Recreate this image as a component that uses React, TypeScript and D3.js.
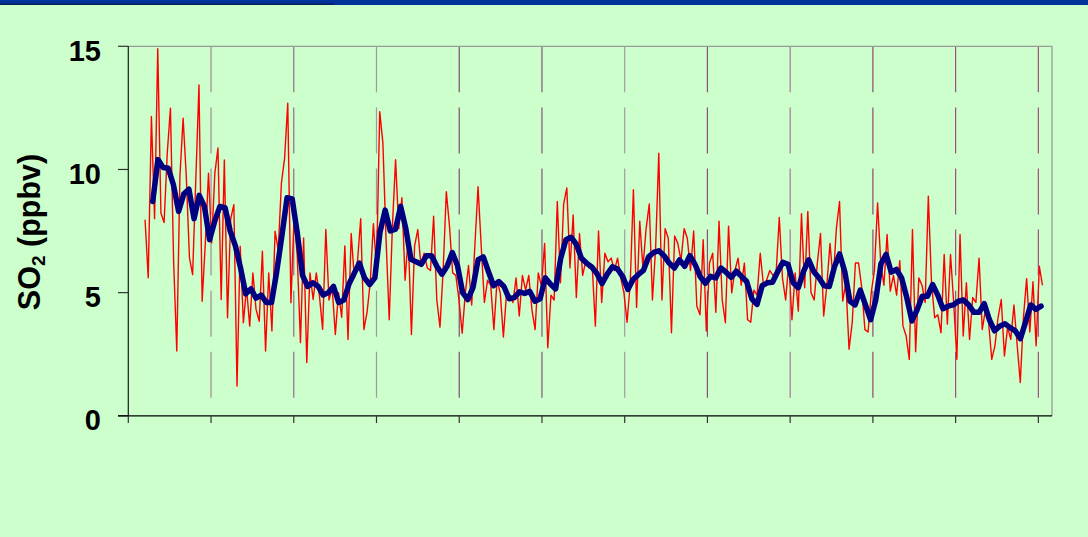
import React from "react";
import * as d3 from "d3";

// ---- data ----
const YEAR_DAYS = 365.25;
const X_END_DAYS = 4078; // axis extent in days
const yTicks = [0, 5, 10, 15];
const yearTicks = d3.range(0, 12); // year boundaries (tick marks)

// red: biweekly SO2 values (ppbv)
const RED_START_DAY = 74;
const RED_STEP_DAYS = 14;
const redValues = [
  7.96, 5.6, 12.15, 8.0, 14.9, 8.23, 7.85, 10.66, 12.49, 6.3,
  2.63, 9.75, 12.08, 9.72, 6.41, 5.73, 9.58, 13.43, 4.65, 7.0,
  9.85, 7.02, 9.85, 10.87, 4.72, 10.39, 3.98, 8.0, 8.57, 1.21,
  6.88, 3.78, 5.2, 3.64, 5.8, 4.32, 3.84, 6.68, 2.63, 5.8,
  3.44, 7.49, 6.75, 9.45, 10.46, 12.69, 4.59, 8.1, 6.47, 2.97,
  7.22, 2.16, 5.8, 4.72, 5.8, 4.85, 3.51, 7.56, 4.7, 5.2,
  3.3, 5.0, 4.0, 6.9, 3.1, 7.4, 5.6, 6.3, 8.0, 3.5,
  4.2, 5.4, 7.8, 6.0, 12.35, 11.07, 7.15, 3.9, 7.7, 10.4,
  7.6, 8.85, 5.5, 7.3, 3.3, 6.9, 7.56, 6.1, 6.6, 6.0,
  5.9, 8.1, 4.7, 3.6, 5.9, 9.1, 7.7, 5.8, 5.7, 4.7,
  3.35, 5.0, 6.1, 4.5, 6.9, 9.3, 6.9, 4.6, 5.5, 5.3,
  3.5, 5.5, 5.0, 3.2, 5.0, 4.9, 4.6, 5.6, 4.05, 5.7,
  5.1, 5.7, 4.3, 3.5, 5.8, 5.26, 7.0, 2.76, 4.9, 4.7,
  8.7, 5.4, 8.6, 9.25, 6.0, 8.15, 4.8, 7.4, 5.7, 6.3,
  6.0, 6.1, 3.64, 7.5, 4.6, 6.6, 6.25, 6.4, 5.9, 6.4,
  5.6, 5.0, 3.8, 5.4, 9.18, 4.4, 7.9, 6.0, 7.6, 8.6,
  4.7, 6.8, 10.66, 4.7, 7.6, 7.2, 3.37, 7.3, 7.0, 6.3,
  7.6, 7.2, 5.9, 7.5, 4.45, 4.1, 7.15, 3.44, 6.2, 6.6,
  4.2, 7.9, 4.7, 3.78, 7.7, 4.99, 5.9, 6.4, 5.3, 6.2,
  3.9, 3.8, 5.1, 4.9, 6.6, 5.3, 5.5, 5.9, 5.7, 5.8,
  8.05, 5.6, 4.7, 6.2, 3.9, 5.8, 4.25, 8.2, 5.2, 8.3,
  5.0, 4.7, 6.2, 7.4, 4.05, 5.3, 7.0, 5.5, 7.6, 8.7,
  4.66, 5.4, 2.7, 3.78, 6.2, 6.2, 5.2, 3.5, 3.4, 5.0,
  5.9, 8.64, 6.2, 5.3, 7.36, 5.06, 5.7, 4.9, 6.3, 3.65,
  3.24, 2.29, 7.56, 2.6, 5.6, 5.3, 4.6, 8.91, 5.4, 3.98,
  4.1, 3.37, 6.55, 3.72, 6.55, 4.6, 2.29, 7.36, 3.24, 5.4,
  3.1, 4.8, 4.6, 6.4, 3.5, 4.3, 3.8, 2.29, 2.84, 4.0,
  4.72, 2.43, 3.6, 3.1, 4.5, 2.9, 1.35, 4.0, 5.57, 3.4,
  5.44, 2.84, 6.07, 5.3,
];

// blue: running mean
const BLUE_START_DAY = 108;
const BLUE_STEP_DAYS = 22.8;
const blueValues = [
  8.7, 10.4, 10.08, 10.05, 9.38, 8.3, 9.0, 9.2, 8.0, 8.95,
  8.5, 7.15, 7.9, 8.5, 8.45, 7.5, 6.9, 6.0, 4.95, 5.15,
  4.78, 4.9, 4.6, 4.6, 5.85, 7.3, 8.85, 8.8, 7.4, 5.7,
  5.25, 5.4, 5.26, 4.9, 5.0, 5.25, 4.6, 4.7, 5.35, 5.78,
  6.2, 5.6, 5.33, 5.6, 7.45, 8.35, 7.5, 7.58, 8.5, 7.6,
  6.35, 6.25, 6.15, 6.5, 6.5, 6.07, 5.75, 6.07, 6.63, 6.1,
  5.0, 4.72, 5.2, 6.34, 6.45, 5.85, 5.28, 5.45, 5.25, 4.75,
  4.8, 5.03, 4.97, 5.05, 4.65, 4.75, 5.6, 5.35, 5.15, 6.4,
  7.15, 7.25, 6.97, 6.4, 6.2, 6.04, 5.78, 5.37, 5.75, 6.05,
  5.96, 5.65, 5.13, 5.53, 5.73, 5.9, 6.45, 6.63, 6.7, 6.5,
  6.2, 6.0, 6.33, 6.07, 6.5, 6.15, 5.65, 5.38, 5.66, 5.6,
  6.0, 5.83, 5.62, 5.87, 5.66, 5.45, 4.75, 4.52, 5.28, 5.4,
  5.42, 5.85, 6.23, 6.15, 5.4, 5.2, 5.85, 6.33, 5.85, 5.6,
  5.28, 5.25, 6.05, 6.57, 5.85, 4.65, 4.5, 5.1, 4.5, 3.9,
  4.7, 6.17, 6.55, 5.83, 5.94, 5.6, 4.8, 3.85, 4.3, 4.85,
  4.85, 5.33, 4.9, 4.35, 4.45, 4.5, 4.65, 4.7, 4.5, 4.2,
  4.2, 4.55, 3.9, 3.45, 3.64, 3.74, 3.58, 3.45, 3.13, 3.8,
  4.5, 4.32, 4.45,
];

// colours of the dashed year separators (index 1..11)
const sepColors = [
  "none", "#a88894", "#8f6f86", "#a09aa0", "#7f4f72", "#805876",
  "#a09ca0", "#8f4c78", "#b0719a", "#904878", "#a34a86", "#a34a86",
];

export default function App() {
  const W = 1088;
  const H = 537;
  const left = 128.3;
  const right = 1052;
  const top = 46.3;
  const bottom = 415.8;

  const x = d3.scaleLinear().domain([0, X_END_DAYS]).range([left, right]);
  const y = d3.scaleLinear().domain([0, 15]).range([bottom, top]);

  const redPath = d3
    .line<number>()
    .x((_, i) => x(RED_START_DAY + i * RED_STEP_DAYS))
    .y((d) => y(d))(redValues) as string;

  const bluePath = d3
    .line<number>()
    .x((_, i) => x(BLUE_START_DAY + i * BLUE_STEP_DAYS))
    .y((d) => y(d))(blueValues) as string;

  const font = "'Liberation Sans', Arial, Helvetica, sans-serif";

  return (
    <svg
      width={W}
      height={H}
      viewBox={`0 0 ${W} ${H}`}
      style={{ position: "fixed", left: 0, top: 0, display: "block" }}
    >
      <rect x={0} y={0} width={W} height={H} fill="#ccffcc" />
      <rect x={0} y={0} width={W} height={5} fill="#003399" />
      <rect x={0} y={3.5} width={334} height={1.5} fill="#0a1d5c" />

      {/* dashed year separators */}
      {yearTicks.slice(1).map((t) => (
        <line
          key={"sep" + t}
          x1={x(t * YEAR_DAYS)}
          x2={x(t * YEAR_DAYS)}
          y1={top}
          y2={400}
          stroke={sepColors[t]}
          strokeWidth={1.2}
          strokeDasharray="46 15.1"
        />
      ))}

      {/* frame top/right */}
      <line x1={left} x2={right} y1={top} y2={top} stroke="#999999" strokeWidth={1.3} />
      <line x1={right} x2={right} y1={top} y2={bottom} stroke="#999999" strokeWidth={1.3} />

      {/* data */}
      <path d={redPath} fill="none" stroke="#ff0000" strokeWidth={1.4} strokeLinejoin="round" />
      <path
        d={bluePath}
        fill="none"
        stroke="#000080"
        strokeWidth={5.5}
        strokeLinejoin="round"
        strokeLinecap="round"
      />

      {/* y axis */}
      <line x1={left} x2={left} y1={top} y2={bottom} stroke="#1a1a1a" strokeWidth={1.2} />
      {yTicks.map((t) => (
        <g key={"yt" + t}>
          <line x1={118} x2={left} y1={y(t)} y2={y(t)} stroke="#333" strokeWidth={1.2} />
          <text
            x={101}
            y={y(t) + 14.5}
            textAnchor="end"
            fontFamily={font}
            fontWeight="bold"
            fontSize={29}
            fill="#000"
          >
            {t}
          </text>
        </g>
      ))}

      {/* x axis */}
      <line x1={118} x2={right} y1={bottom} y2={bottom} stroke="#000" strokeWidth={1.3} />
      {yearTicks.map((t) => (
        <line
          key={"xt" + t}
          x1={x(t * YEAR_DAYS)}
          x2={x(t * YEAR_DAYS)}
          y1={bottom}
          y2={423}
          stroke="#333"
          strokeWidth={1.2}
        />
      ))}

      {/* y title */}
      <text
        transform="translate(40,232) rotate(-90)"
        textAnchor="middle"
        fontFamily={font}
        fontWeight="bold"
        fontSize={30.5}
        fill="#000"
      >
        SO<tspan fontSize={19} dy={5}>2</tspan>
        <tspan dy={-5}> (ppbv)</tspan>
      </text>
    </svg>
  );
}
